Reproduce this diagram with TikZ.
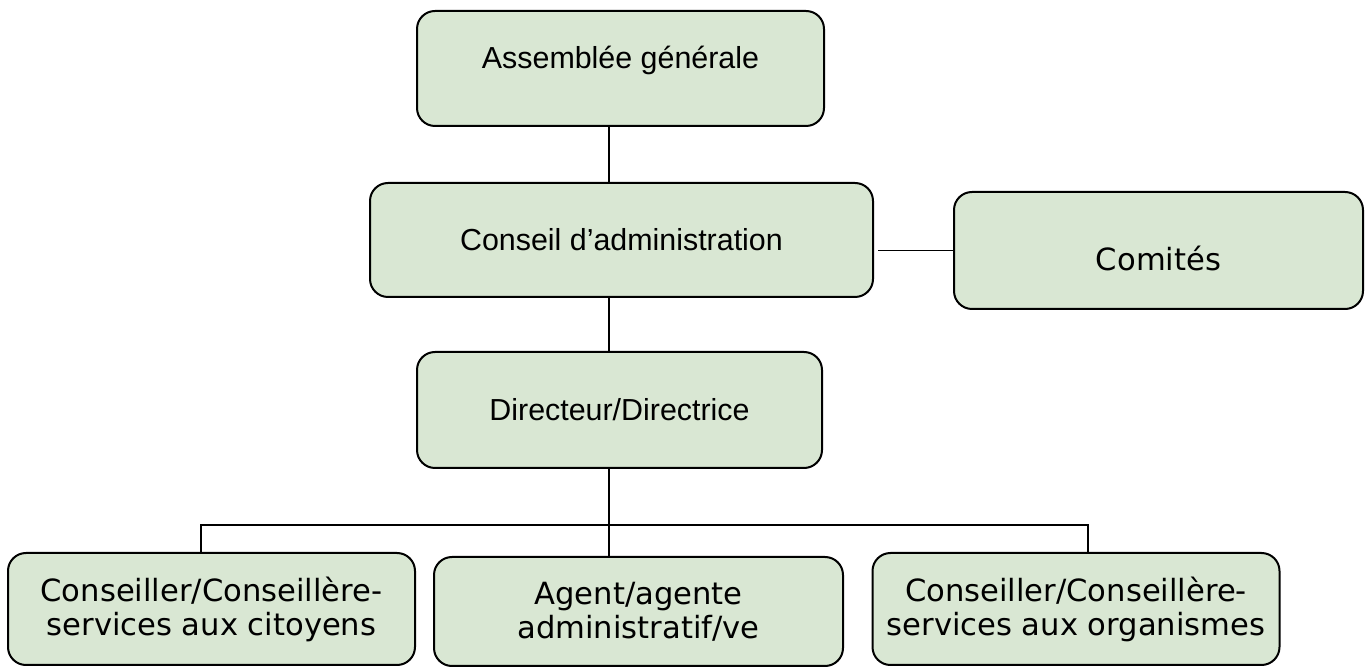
\documentclass[tikz,border=0pt]{standalone}
\usepackage{fontspec}
\setmainfont{Liberation Sans}
\newfontfamily\tahomafont{DejaVu Sans}
\usetikzlibrary{positioning}
\definecolor{boxgreen}{HTML}{D9E7D3}

\begin{document}
\begin{tikzpicture}[
    x=0.5pt, y=-0.5pt,
    box/.style={rectangle, draw=black, line width=1pt, fill=boxgreen, rounded corners=9pt,
      align=center, inner sep=0pt, font=\fontsize{15.2}{18}\selectfont},
    unitbox/.style={box, minimum width=203.5pt, minimum height=56pt,
      font=\tahomafont\fontsize{15.3}{17}\selectfont},
    link/.style={line width=0.75pt}
  ]
  \useasboundingbox (0,0) rectangle (1371,667);

  % governance
  \node[box, minimum width=203.5pt, minimum height=57.5pt] (assemblee) at (620.5,68.5)
    {\raisebox{11pt}{Assemblée générale}};
  \node[box, minimum width=251.5pt, minimum height=57pt] (conseil) at (621.5,240)
    {Conseil d’administration};
  \node[box, minimum width=204.5pt, minimum height=58.5pt,
    font=\tahomafont\fontsize{15.3}{17}\selectfont] (comites) at (1158.5,250.5)
    {\raisebox{-4pt}[\height][\depth]{Comités}};
  \node[box, minimum width=202.5pt, minimum height=58pt] (directeur) at (619.5,410)
    {Directeur/Directrice};

  % staff
  \node[unitbox] (citoyens) at (211.5,609) {Conseiller/Conseillère-\\services aux citoyens};
  \node[unitbox, minimum width=204.5pt, minimum height=54.5pt] (agent) at (638.5,611.5)
    {Agent/agente\\administratif/ve};
  \node[unitbox] (organismes) at (1076,609) {Conseiller/Conseillère-\\services aux organismes};

  \coordinate (spine) at (609,0);
  \coordinate (dropL) at (201,525);
  \coordinate (dropR) at (1088,525);

  \draw[link] (assemblee.south -| spine) -- (conseil.north -| spine);
  \draw[link] (conseil.south -| spine) -- (directeur.north -| spine);
  \draw[link] ([xshift=2pt]comites.west -| conseil.east) -- (comites.west);
  \draw[link] (directeur.south -| spine) -- (agent.north -| spine);
  \draw[link] (dropL |- citoyens.north) -- (dropL) -- (dropR) -- (dropR |- organismes.north);

\end{tikzpicture}
\end{document}
